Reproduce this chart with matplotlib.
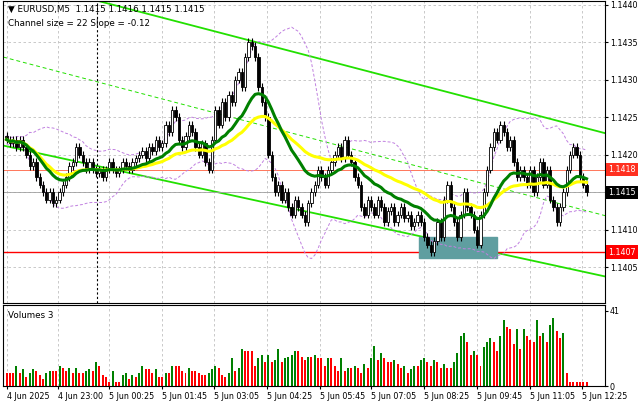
import matplotlib
matplotlib.use("Agg")
import matplotlib.pyplot as plt
import numpy as np
import pandas as pd
from matplotlib.patches import Rectangle

# closes in pips above 1.1400
closes_pips = [22, 21.5, 22, 21, 22, 21,
    20, 18.5, 19, 17, 16, 15, 14, 15, 13.5, 14, 15, 16,
    17, 18.5, 19, 21, 20, 19,
    18, 19, 18, 17.5, 18, 17, 18, 19, 18, 17.5, 18, 19, 18.5, 18, 19,
    19.5, 20, 20.5, 19.5, 21, 20.5, 22, 21, 21.5,
    24, 23, 26, 25, 22, 21, 22.5, 24, 23,
    21, 20, 21.5, 19, 18, 22, 26, 24, 27, 25, 28, 27,
    30, 31, 29, 33, 35, 34.5, 33, 29,
    27, 25, 20, 17, 15,
    16, 14, 15, 13, 12, 14, 13, 12, 11, 13.5,
    15, 16, 18, 17, 16, 18, 19, 20, 21, 19.5, 22, 20,
    19, 17, 16, 13, 12, 14, 13,
    12, 14, 13, 11, 12.5, 13, 11, 12, 13, 11.5, 12, 10.5, 11, 12, 11,
    9, 8, 7, 8.5, 11, 9,
    14, 16, 13, 11, 9, 12, 15, 13, 12,
    10, 8, 12, 15, 18, 21, 23, 22, 24, 23,
    21, 22, 19, 17, 18, 17, 16, 18, 15,
    17, 19, 16, 18, 14, 13, 11, 13, 15,
    18, 20, 21, 20, 17, 16, 15]

volumes = [7, 7, 7, 11, 7, 9, 5, 7, 9, 8, 6, 4, 7, 8, 8, 8, 11, 10, 8, 10,
    7, 10, 7, 7, 8, 9, 8, 13, 11, 6, 5, 2, 8, 2, 2, 6, 7, 4, 6, 5,
    7, 11, 9, 9, 7, 9, 5, 5, 7, 7, 11, 11, 11, 8, 7, 10, 8, 8, 7, 6,
    6, 7, 9, 11, 10, 6, 5, 7, 15, 8, 10, 20, 19, 19, 19, 11, 15, 17, 13, 17,
    13, 14, 20, 13, 15, 16, 17, 19, 19, 16, 14, 16, 16, 17, 15, 15, 11, 15, 15, 11,
    8, 15, 8, 10, 10, 11, 10, 7, 12, 10, 15, 22, 14, 18, 15, 13, 13, 14, 12, 10,
    11, 7, 9, 11, 11, 14, 15, 13, 11, 14, 13, 10, 12, 10, 10, 13, 18, 27, 29, 24,
    17, 19, 17, 11, 21, 24, 26, 24, 19, 27, 36, 32, 31, 23, 31, 20, 31, 27, 25, 24,
    36, 27, 29, 24, 33, 37, 30, 26, 29, 7, 2]

tick_labels = ["4 Jun 2025", "4 Jun 23:00", "5 Jun 00:25", "5 Jun 01:45", "5 Jun 03:05",
               "5 Jun 04:25", "5 Jun 05:45", "5 Jun 07:05", "5 Jun 08:25", "5 Jun 09:45",
               "5 Jun 11:05", "5 Jun 12:25"]
tick_bars = [0, 15.5, 31, 47, 62.5, 78.5, 94.5, 110, 126, 142, 158, 173.5]
price_ticks = [1.1405, 1.1410, 1.1415, 1.1420, 1.1425, 1.1430, 1.1435, 1.1440]

n = len(closes_pips)
c = 1.1400 + np.array(closes_pips) / 1e4
o = np.concatenate([[c[0] + 0.00005], c[:-1]])
hi = np.maximum(o, c) + 0.00005
lo = np.minimum(o, c) - 0.00005
x = np.arange(n)
vol = np.array(volumes[:n] + [2] * max(0, n - len(volumes)))

fig = plt.figure(figsize=(6.4, 4.01), dpi=100)
ax = fig.add_axes([0.005, 1 - 303 / 401, 0.94, 303 / 401 - 0.002])
av = fig.add_axes([0.005, 1 - 386 / 401, 0.94, 81 / 401])

for a in (ax, av):
    a.set_xlim(-1, 180.5)
    for sp in a.spines.values():
        sp.set_color("black"); sp.set_linewidth(0.8)
    a.yaxis.tick_right()
    a.tick_params(axis="y", labelsize=5.8, length=2, pad=1.5)
    a.tick_params(axis="x", length=2, pad=2)
    for tb in tick_bars:
        a.axvline(tb, color="#c0c0c0", lw=0.6, ls=(0, (3, 3)), zorder=0)

ax.set_ylim(1.14002, 1.14405)
ax.set_yticks(price_ticks)
ax.set_yticklabels([f"{p:.4f}" for p in price_ticks])
ax.set_xticks([])
for p in price_ticks:
    ax.axhline(p, color="#c0c0c0", lw=0.6, ls=(0, (3, 3)), zorder=0)

# channel
ax.plot([27.5, 181], [1.14405, 1.14228], color="#22e000", lw=1.3)
ax.plot([-1, 181], [1.14212, 1.14037], color="#22e000", lw=1.3)
ax.plot([-1, 181], [1.14330, 1.14118], color="#22e000", lw=0.7, ls=(0, (4, 3)))

ax.axhline(1.1407, color="#ff0000", lw=1.0)
ax.axhline(1.1418, color="#ff6040", lw=0.6)
ax.axhline(1.1415, color="#a0a0a0", lw=0.6)
ax.axvline(27.2, color="black", lw=0.8, ls=(0, (2, 2)))
ax.add_patch(Rectangle((124.5, 1.14062), 23.5, 0.00028, color="#5f9ea0", zorder=2))

s = pd.Series(c)
fast = s.ewm(span=20).mean()
slow = s.ewm(span=45).mean()
bb_mid = s.rolling(20, min_periods=1).mean()
bb_sd = s.rolling(20, min_periods=2).std().bfill()
ax.plot(x, bb_mid + 1.6 * bb_sd, color="#c080e0", lw=0.7, ls=(0, (3, 2)))
ax.plot(x, bb_mid - 1.6 * bb_sd, color="#c080e0", lw=0.7, ls=(0, (3, 2)))

for i in range(n):
    up = c[i] >= o[i]
    ax.vlines(x[i], lo[i], hi[i], color="black", lw=0.8, zorder=3)
    ax.add_patch(Rectangle((x[i] - 0.35, min(o[i], c[i])), 0.7,
                           max(abs(c[i] - o[i]), 0.000015),
                           facecolor="white" if up else "black",
                           edgecolor="black", lw=0.6, zorder=4))

ax.plot(x, slow, color="#ffff00", lw=2.2, zorder=5)
ax.plot(x, fast, color="#008000", lw=2.2, zorder=6)

for p, fc in [(1.1418, "#ff3020"), (1.1415, "black"), (1.1407, "#ff0000")]:
    ax.text(1.006, p, f"{p:.4f}", transform=ax.get_yaxis_transform(), fontsize=5.8,
            color="white", va="center", ha="left",
            bbox=dict(boxstyle="square,pad=0.25", fc=fc, ec="none"))

ax.text(0.008, 0.985, "▼ EURUSD,M5  1.1415 1.1416 1.1415 1.1415", transform=ax.transAxes,
        fontsize=6.3, va="top")
ax.text(0.008, 0.94, "Channel size = 22 Slope = -0.12", transform=ax.transAxes,
        fontsize=6.3, va="top")

# volumes
vcol = ["#008000" if i > 0 and vol[i] > vol[i - 1] else "#ff0000" for i in range(n)]
vcol[0] = "#ff0000"
av.bar(x, vol, width=0.6, color=vcol)
av.set_ylim(0, 44)
av.set_yticks([0, 41])
av.set_xticks(tick_bars)
av.set_xticklabels(tick_labels, fontsize=5.8, ha="left")
av.text(0.008, 0.92, "Volumes 3", transform=av.transAxes, fontsize=6.3, va="top")

fig.savefig("out.png", dpi=100, facecolor="white")
